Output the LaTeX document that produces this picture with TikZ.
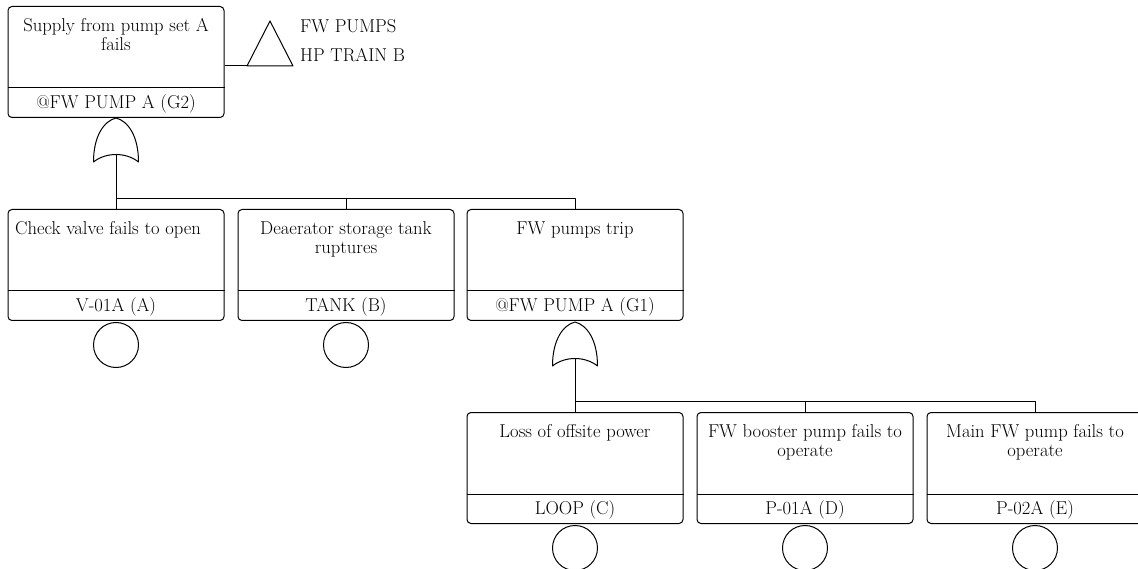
\documentclass[tikz,border=0pt]{standalone}
\usepackage{fontspec}
\begin{document}
\begin{tikzpicture}[x=1pt,y=-1pt,
  wire/.style={line width=1pt, line join=round},
  evbox/.style={draw, line width=1pt, rounded corners=4pt, minimum width=216pt, minimum height=111pt, inner sep=0pt},
  ttl/.style={anchor=north, align=center, inner sep=0pt, font=\fontsize{18.6}{19}\selectfont},
  lbl/.style={inner sep=0pt, font=\fontsize{18.6}{19}\selectfont},
  basic/.style={draw, circle, line width=1pt, minimum size=45pt, inner sep=0pt},
  side/.style={anchor=base west, inner sep=0pt, font=\fontsize{18.6}{19}\selectfont}]
\useasboundingbox (0,0) rectangle (1138,569);
\newcommand\evt[6]{%
  \node[evbox, anchor=north] (#1) at (#2,#3) {};
  \draw[wire] ([yshift=30pt]#1.south west) -- ([yshift=30pt]#1.south east);
  \node[ttl] (#1t) at ([xshift=#6pt,yshift=-12pt]#1.north) {\rule{0pt}{13pt}#4};
  \node[lbl, anchor=base] (#1l) at ([yshift=9.5pt]#1.south) {#5};
}
\newcommand\orgate[3]{%
  \coordinate (#1) at (#2,#3);
  \draw[wire] (#2-22.5,#3+44) .. controls (#2-22.5,#3+18) and (#2-12,#3+3) .. (#1)
     .. controls (#2+12,#3+3) and (#2+22.5,#3+18) .. (#2+22.5,#3+44)
     .. controls (#2+10,#3+34) and (#2-10,#3+34) .. cycle;
  \coordinate (#1in) at (#2,#3+37);
}
% top event
\evt{top}{116}{6}{Supply from pump set A\\fails}{@FW PUMP A (G2)}{0}
% transfer triangle
\coordinate (trib) at (247,66);
\coordinate (trit) at (270,21);
\coordinate (trir) at (293,66);
\draw[wire] (trib) -- (trit) -- (trir) -- cycle;
\draw[wire] (top.east |- trib) -- (trib);
\node[side] (tr1) at (300,33) {FW PUMPS};
\node[side] (tr2) at (300,62) {HP TRAIN B};
% gate G2
\orgate{g2}{116}{118}
% row 2
\evt{A}{116}{209}{Check valve fails to open}{V-01A (A)}{-8}
\evt{B}{346}{209}{Deaerator storage tank\\ruptures}{TANK (B)}{0}
\evt{C}{575}{209}{FW pumps trip}{@FW PUMP A (G1)}{0}
\coordinate (bus1) at (116,199);
\draw[wire] (g2in) -- (A.north);
\draw[wire] (bus1) -| (B.north);
\draw[wire] (bus1) -| (C.north);
\node[basic, anchor=north] (Ac) at ([yshift=-1pt]A.south) {};
\node[basic, anchor=north] (Bc) at ([yshift=-1pt]B.south) {};
% gate G1
\orgate{g1}{575}{322}
% row 3
\evt{D}{575}{412}{Loss of offsite power}{LOOP (C)}{0}
\evt{E}{805}{412}{FW booster pump fails to\\operate}{P-01A (D)}{0}
\evt{F}{1035}{412}{Main FW pump fails to\\operate}{P-02A (E)}{0}
\coordinate (bus2) at (575,401);
\draw[wire] (g1in) -- (D.north);
\draw[wire] (bus2) -| (E.north);
\draw[wire] (bus2) -| (F.north);
\node[basic, anchor=north] (Dc) at ([yshift=-1pt]D.south) {};
\node[basic, anchor=north] (Ec) at ([yshift=-1pt]E.south) {};
\node[basic, anchor=north] (Fc) at ([yshift=-1pt]F.south) {};
\end{tikzpicture}
\end{document}
